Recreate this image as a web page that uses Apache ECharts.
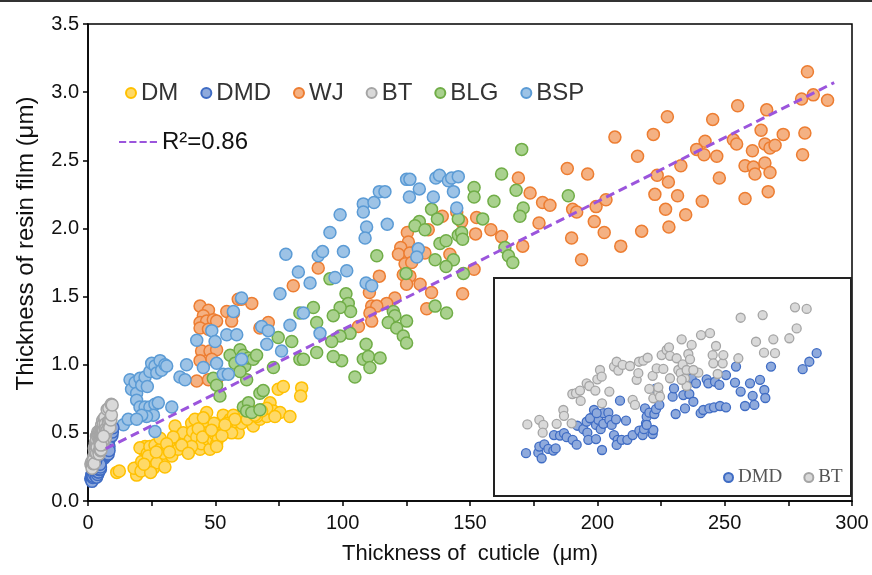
<!DOCTYPE html>
<html>
<head>
<meta charset="utf-8">
<script src="https://cdn.jsdelivr.net/npm/echarts@6/dist/echarts.min.js"></script>
<style>
html, body { margin: 0; padding: 0; background: #fff; }
#chart { width: 872px; height: 575px; }
</style>
</head>
<body>
<div id="chart"></div>
<script>
// [cuticle thickness (um), resin film thickness (um)]
const dmPts = [
  [11.3,0.21],[12.3,0.22],[19.1,0.19],[19.8,0.25],[18.1,0.24],[21.1,0.29],[21.5,0.38],[22.4,0.40],[20.4,0.39],[23.3,0.35],
  [25.0,0.29],[25.7,0.24],[24.3,0.40],[26.3,0.41],[27.6,0.33],[28.3,0.38],[28.9,0.29],[29.6,0.35],[31.2,0.40],[32.9,0.33],
  [34.2,0.55],[33.5,0.40],[35.5,0.47],[36.1,0.44],[37.4,0.50],[38.1,0.38],[38.7,0.41],[40.1,0.45],[40.7,0.57],[41.1,0.51],
  [42.0,0.60],[42.7,0.47],[44.0,0.38],[44.6,0.42],[45.9,0.55],[46.6,0.50],[47.3,0.45],[47.9,0.38],[49.2,0.45],[49.9,0.49],
  [50.5,0.42],[51.2,0.46],[51.8,0.57],[46.6,0.65],[49.5,0.57],[50.5,0.40],[53.1,0.63],[54.5,0.52],[55.8,0.60],[57.1,0.63],
  [58.4,0.55],[59.0,0.50],[60.3,0.57],[61.6,0.62],[64.3,0.66],[64.9,0.55],[67.5,0.60],[68.8,0.67],[70.2,0.62],[71.5,0.72],
  [72.8,0.66],[74.7,0.82],[75.4,0.65],[76.7,0.84],[79.3,0.62],[83.9,0.83],[83.5,0.77],[70.2,0.68],[33.5,0.47],[28.3,0.46],
  [23.7,0.33],[27.0,0.28],[30.2,0.25],[30.9,0.42],[40.7,0.40],[43.3,0.53],[54.5,0.57],[56.4,0.50],[57.7,0.60],[66.2,0.62],
  [68.2,0.66],[73.4,0.62],[35.5,0.38],[45.3,0.61],[20.8,0.22],[24.6,0.21],[22.0,0.27],[26.8,0.36],[32.0,0.36],[36.8,0.41],
  [39.4,0.35],[45.0,0.47],[48.5,0.52],[52.6,0.48],[53.8,0.56],[62.5,0.60],[65.5,0.63]
];
const dmdPts = [
  [1.08,0.163],[1.45,0.165],[1.55,0.144],[1.48,0.188],[1.63,0.196],[1.75,0.179],[1.90,0.173],[1.97,0.181],[1.92,0.231],[2.10,0.229],
  [2.22,0.238],[2.30,0.223],[2.48,0.213],[2.60,0.195],[2.62,0.266],[2.80,0.253],[2.90,0.281],[2.92,0.240],[2.95,0.213],[3.10,0.300],
  [3.12,0.325],[3.18,0.269],[3.18,0.216],[3.32,0.253],[3.25,0.288],[3.40,0.313],[3.40,0.273],[3.55,0.315],[3.58,0.288],[3.65,0.269],
  [3.78,0.290],[3.72,0.231],[3.83,0.213],[3.36,0.175],[3.80,0.194],[3.95,0.213],[4.08,0.285],[3.90,0.360],[4.12,0.213],[4.28,0.231],
  [4.48,0.248],[4.58,0.231],[4.62,0.253],[4.65,0.331],[4.68,0.275],[4.70,0.300],[4.78,0.315],[4.88,0.235],[4.90,0.250],[4.93,0.310],
  [4.98,0.328],[5.08,0.344],[4.97,0.405],[5.48,0.375],[5.52,0.406],[5.57,0.310],[5.80,0.381],[5.85,0.331],[5.98,0.385],[6.05,0.444],
  [6.10,0.356],[6.18,0.425],[6.32,0.313],[6.40,0.325],[6.50,0.440],[6.55,0.425],[6.58,0.331],[6.72,0.335],[6.75,0.431],[6.88,0.419],
  [6.90,0.340],[7.08,0.335],[7.08,0.456],[7.35,0.428],[7.38,0.488],[7.52,0.394],[7.65,0.340],[7.80,0.425],[7.88,0.378],[7.93,0.344],
  [8.10,0.438],[8.23,0.400],[8.26,0.370],[8.43,0.488],[9.38,0.478],[9.58,0.506],[9.80,0.538],[4.70,0.269],[3.00,0.294],[3.20,0.313]
];
const wjPts = [
  [44.0,1.43],[47.3,1.40],[45.3,1.36],[44.0,1.31],[46.6,1.32],[49.2,1.33],[50.5,1.32],[44.0,1.27],[47.3,1.26],[44.6,1.10],
  [47.9,1.10],[50.5,1.11],[48.6,1.04],[44.0,1.03],[42.7,0.88],[47.3,0.89],[50.5,0.89],[54.5,1.39],[57.1,1.38],[59.0,1.48],
  [60.3,1.48],[64.3,1.45],[56.4,1.32],[67.5,1.27],[70.8,1.31],[80.6,1.58],[90.4,1.71],
  [169.0,2.37],[139.1,2.09],[144.8,2.12],[152.6,2.08],[146.7,2.05],[152.2,1.96],[158.2,1.99],[162.4,1.94],[170.7,1.87],[125.4,1.97],
  [125.8,1.90],[122.8,1.86],[121.9,1.81],[126.4,1.82],[132.3,1.82],[133.6,1.99],[124.5,1.74],[127.1,1.75],[123.8,1.66],[126.4,1.65],
  [125.1,1.59],[130.4,1.59],[134.9,1.53],[142.1,1.81],[147.1,1.52],[151.6,1.70],[114.4,1.65],[110.5,1.53],[120.5,1.49],[117.3,1.45],
  [111.4,1.43],[113.4,1.43],[110.7,1.38],[111.4,1.32],[106.2,1.28],[133.0,1.41],[173.6,2.26],
  [282.5,3.15],[280.2,2.95],[284.8,2.98],[290.4,2.94],[255.1,2.90],[266.5,2.87],[227.5,2.82],[245.3,2.80],[264.3,2.72],[273.0,2.69],
  [281.5,2.70],[206.9,2.67],[222.0,2.69],[242.3,2.64],[239.0,2.58],[241.9,2.54],[246.9,2.53],[253.4,2.65],[254.7,2.62],[260.9,2.57],
  [265.8,2.62],[267.8,2.59],[269.8,2.61],[280.6,2.54],[215.8,2.53],[232.8,2.46],[223.5,2.39],[227.9,2.34],[247.9,2.37],[258.0,2.46],
  [261.3,2.45],[261.9,2.40],[265.8,2.48],[267.8,2.41],[188.2,2.44],[196.2,2.40],[178.5,2.19],[181.4,2.17],[222.6,2.25],[231.5,2.24],
  [241.2,2.20],[258.0,2.22],[267.1,2.27],[190.3,2.14],[191.9,2.12],[199.5,2.16],[203.4,2.21],[226.8,2.14],[234.7,2.10],[198.8,2.05],
  [177.1,2.04],[202.7,1.97],[217.4,1.98],[228.1,2.01],[189.9,1.93],[209.2,1.87],[193.8,1.77]
];
const btPts = [
  [1.12,0.271],[1.48,0.288],[1.60,0.269],[1.58,0.240],[2.00,0.273],[2.20,0.325],[2.22,0.303],[2.45,0.275],[2.47,0.385],[2.58,0.388],
  [2.70,0.398],[2.72,0.359],[2.90,0.425],[2.98,0.415],[3.16,0.398],[3.22,0.440],[3.30,0.475],[3.35,0.450],[3.36,0.350],[3.58,0.394],
  [3.72,0.488],[3.80,0.506],[3.85,0.473],[3.98,0.494],[4.20,0.490],[4.28,0.363],[4.35,0.344],[4.40,0.438],[4.45,0.463],[4.47,0.506],
  [4.60,0.510],[4.73,0.521],[4.78,0.404],[4.88,0.453],[4.90,0.369],[5.00,0.481],[5.05,0.390],[5.10,0.375],[5.15,0.531],[5.20,0.479],
  [5.30,0.550],[5.37,0.560],[5.40,0.528],[5.40,0.444],[5.60,0.519],[5.65,0.475],[5.72,0.463],[5.75,0.590],[5.78,0.496],[5.85,0.444],
  [5.90,0.475],[5.90,0.415],[5.95,0.535],[6.00,0.515],[6.05,0.569],[6.25,0.465],[6.33,0.606],[6.60,0.613],[6.68,0.531],[6.70,0.500],
  [6.78,0.565],[6.83,0.460],[6.98,0.500],[7.00,0.531],[7.45,0.519],[7.52,0.671],[7.98,0.581],[8.18,0.681],[8.22,0.540],[8.50,0.590],
  [8.55,0.538],[8.98,0.594],[9.15,0.710],[9.20,0.631],[9.50,0.704],[5.75,0.438],[5.05,0.410],[6.10,0.475]
];
const blgPts = [
  [49.2,0.90],[50.5,0.85],[51.8,0.77],[55.8,1.07],[57.7,1.01],[59.7,1.11],[61.0,1.07],[61.6,0.99],[63.0,1.05],[64.9,1.04],
  [66.2,1.07],[62.3,0.89],[59.7,0.95],[72.8,0.98],[74.7,1.20],[80.0,1.17],[83.2,1.38],[88.5,1.42],[89.8,1.31],[83.2,1.04],
  [84.6,1.04],[89.8,1.09],[61.0,0.69],[63.0,0.72],[62.3,0.66],[64.3,0.65],[67.5,0.67],[67.5,0.79],[68.8,0.81],[95.0,1.63],
  [162.4,2.40],[151.6,2.30],[151.6,2.23],[159.4,2.20],[168.1,2.28],[170.9,2.15],[169.6,2.09],[155.0,2.07],[145.4,2.07],[134.9,2.14],
  [137.2,2.07],[130.1,2.05],[128.4,2.02],[132.3,1.99],[145.4,1.95],[146.7,1.97],[147.1,1.92],[138.2,1.89],[140.6,1.91],[143.5,1.77],
  [136.3,1.77],[140.6,1.72],[147.4,1.67],[124.9,1.67],[113.4,1.80],[163.7,1.86],[165.1,1.80],[166.8,1.75],[101.3,1.52],[102.2,1.45],
  [103.1,1.39],[99.0,1.42],[96.3,1.36],[136.3,1.43],[140.8,1.38],[119.9,1.39],[120.5,1.36],[117.9,1.31],[125.1,1.32],[121.2,1.27],
  [123.8,1.21],[125.1,1.16],[109.2,1.15],[108.1,1.04],[110.1,1.06],[114.7,1.05],[110.7,0.98],[104.8,0.91],[99.6,1.03],[96.3,1.06],
  [102.9,1.23],[99.0,1.21],[95.7,1.17],[170.3,2.58],[188.6,2.24]
];
const bspPts = [
  [16.5,0.89],[17.1,0.82],[18.5,0.87],[19.1,0.79],[20.4,0.90],[21.1,0.85],[22.4,0.91],[23.3,0.84],[24.3,0.95],[25.0,1.01],
  [26.3,0.99],[27.0,0.94],[28.3,1.03],[28.9,0.96],[30.2,1.00],[30.9,0.99],[19.1,0.74],[20.4,0.69],[22.4,0.69],[24.3,0.69],
  [26.3,0.71],[27.6,0.72],[25.7,0.63],[23.0,0.62],[21.1,0.63],[13.9,0.56],[15.8,0.60],[19.1,0.60],[32.9,0.69],[26.3,0.51],
  [38.7,1.00],[36.1,0.91],[38.1,0.89],[42.7,1.18],[45.3,0.98],[48.6,1.25],[49.9,1.17],[50.5,1.01],[53.1,0.93],[55.1,0.93],
  [54.5,1.22],[58.4,1.22],[60.3,1.04],[57.1,1.39],[60.3,1.49],[68.2,1.28],[70.8,1.25],[70.2,1.15],[76.0,1.10],[79.3,1.29],
  [75.4,1.52],[84.6,1.38],[87.2,1.60],[91.1,1.23],[77.7,1.81],[90.4,1.80],[92.1,1.83],[82.6,1.68],
  [99.0,2.10],[95.0,1.97],[108.1,2.18],[108.1,2.12],[112.3,2.19],[114.4,2.27],[116.6,2.27],[109.4,2.01],[108.8,1.93],[117.5,2.03],
  [126.2,2.23],[125.1,2.36],[126.4,2.36],[130.1,2.29],[135.6,2.23],[136.6,2.37],[138.0,2.39],[141.5,2.35],[142.8,2.37],[145.4,2.38],
  [143.5,2.27],[144.8,2.15],[100.3,1.83],[97.0,1.64],[101.6,1.69],[109.2,1.60],[111.4,1.58],[129.7,1.85],[129.1,1.79]
];
// linear fit end points
const fitLine = [[7, 0.384], [293, 3.07]];
const fitName = 'R²=0.86';

const legendNames = ['DM', 'DMD', 'WJ', 'BT', 'BLG', 'BSP'];
const insetLegendNames = ['DMD', 'BT'];

const sans = 'Liberation Sans, Arial, sans-serif';
// four short dashes for the fit-line legend icon
const dashIcon = 'path://M0,0H7V2H0Z M10,0H17V2H10Z M20,0H27V2H20Z M30,0H37V2H30Z';

function scatter(name, data, fill, border, size, idx) {
  return {
    name: name,
    type: 'scatter',
    xAxisIndex: idx,
    yAxisIndex: idx,
    data: data,
    symbolSize: size,
    itemStyle: { color: fill, borderColor: border, borderWidth: idx ? 1.3 : 1.5, opacity: 1 },
    emphasis: { disabled: true }
  };
}

const chart = echarts.init(document.getElementById('chart'));

const option = {
  animation: false,
  backgroundColor: '#fff',
  graphic: [{
    type: 'rect', left: 0, top: 0, shape: { width: 872, height: 2 }, style: { fill: '#333' }
  }],
  grid: [
    { left: 88, right: 20, top: 24, bottom: 74, show: true, borderColor: '#000', borderWidth: 1.5 },
    { left: 494, top: 278, width: 357, height: 218, show: true, borderColor: '#222', borderWidth: 2 }
  ],
  legend: [
    {
      data: legendNames, left: 120, top: 76, icon: 'circle', itemWidth: 10, itemHeight: 10, itemGap: 22,
      textStyle: { fontSize: 24, color: '#333', fontFamily: sans }
    },
    {
      data: [{ name: fitName, icon: dashIcon }], left: 114, top: 125, itemWidth: 38, itemHeight: 3,
      textStyle: { fontSize: 24, color: '#111', fontFamily: sans }
    },
    {
      data: insetLegendNames, left: 718, top: 463, icon: 'circle', itemWidth: 9, itemHeight: 9, itemGap: 21,
      textStyle: { fontSize: 19, color: '#555', fontFamily: 'Liberation Serif, Times New Roman, serif' }
    }
  ],
  xAxis: [
    {
      type: 'value', min: 0, max: 300, interval: 50,
      name: 'Thickness of  cuticle  (μm)', nameLocation: 'middle', nameGap: 42,
      nameTextStyle: { fontSize: 22, color: '#111', fontFamily: sans },
      axisLine: { lineStyle: { color: '#000', width: 1.5 } },
      axisTick: { length: 5, lineStyle: { color: '#000', width: 1.5 } },
      minorTick: { show: true, splitNumber: 2, length: 5, lineStyle: { color: '#000', width: 1.5 } },
      axisLabel: { fontSize: 20, color: '#111', margin: 12, fontFamily: sans },
      splitLine: { show: false }
    },
    { type: 'value', gridIndex: 1, min: 0.12, max: 10.83, show: false, splitLine: { show: false } }
  ],
  yAxis: [
    {
      type: 'value', min: 0, max: 3.5, interval: 0.5,
      name: 'Thickness of resin film (μm)', nameLocation: 'middle', nameGap: 50,
      nameTextStyle: { fontSize: 24, color: '#111', fontFamily: sans, padding: [0, 0, 0, 38] },
      axisLine: { show: true, lineStyle: { color: '#000', width: 1.5 } },
      axisTick: { show: true, length: 5, lineStyle: { color: '#000', width: 1.5 } },
      axisLabel: { fontSize: 20, color: '#111', margin: 9, fontFamily: sans, formatter: v => v.toFixed(1) },
      splitLine: { show: false }
    },
    { type: 'value', gridIndex: 1, min: 0.0025, max: 0.82, show: false, splitLine: { show: false } }
  ],
  series: [
    scatter('DM', dmPts, '#ffd966', '#ffc000', 12, 0),
    scatter('WJ', wjPts, '#f4b183', '#ed7d31', 12, 0),
    scatter('BLG', blgPts, '#a9d18e', '#70ad47', 12, 0),
    scatter('BSP', bspPts, '#9dc3e6', '#5b9bd5', 12, 0),
    scatter('DMD', dmdPts, '#8faadc', '#3f6cc4', 12, 0),
    scatter('BT', btPts, '#d9d9d9', '#a5a5a5', 12, 0),
    {
      name: fitName, type: 'line', data: fitLine, symbol: 'none', z: 5,
      lineStyle: { color: '#9b55dc', width: 3, type: [9, 5] },
      itemStyle: { color: '#9b55dc' }
    },
    scatter('DMD', dmdPts, '#8faadc', '#3f6cc4', 9, 1),
    scatter('BT', btPts, '#d9d9d9', '#a5a5a5', 9, 1)
  ]
};

chart.setOption(option);
</script>
</body>
</html>
